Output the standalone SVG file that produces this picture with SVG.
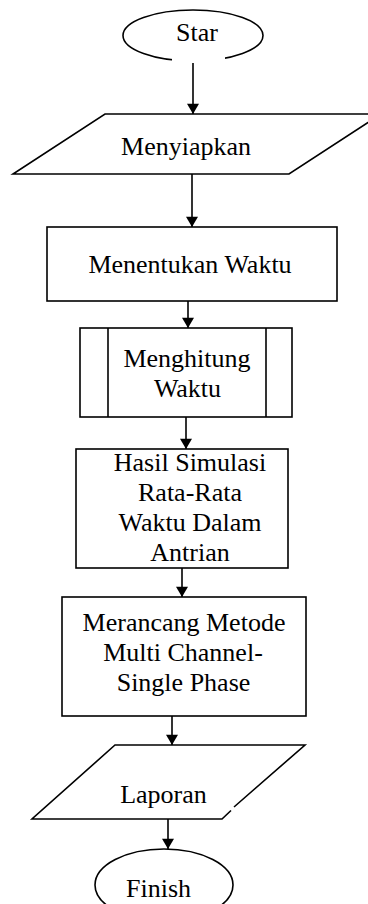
<svg xmlns="http://www.w3.org/2000/svg" width="368" height="904" viewBox="0 0 368 904">
<defs>
<style>
.s{fill:#fff;stroke:#000;stroke-width:1.6}
.t{font-family:"Liberation Serif","Times New Roman",serif;font-size:26px;fill:#000;text-anchor:middle}
.c{stroke:#000;stroke-width:1.6;fill:none}
</style>
<marker id="ah" markerWidth="14" markerHeight="12" refX="12" refY="7" orient="auto" markerUnits="userSpaceOnUse" viewBox="0 0 12 14">
<path d="M0,0 L12,7 L0,14 Z" fill="#000"/>
</marker>
</defs>
<rect width="368" height="904" fill="#fff"/>
<g id="star">
<ellipse class="s" cx="193" cy="35.5" rx="70" ry="25.5"/>
<rect x="172" y="57" width="53" height="6" fill="#fff"/>
<text class="t" x="197" y="41">Star</text>
</g>
<g id="menyiapkan">
<polygon class="s" points="105,114 381,114 289,174 13,174"/>
<text class="t" x="186" y="155">Menyiapkan</text>
</g>
<g id="menentukan">
<rect class="s" x="47" y="227" width="290" height="74"/>
<text class="t" x="190" y="273">Menentukan Waktu</text>
</g>
<g id="menghitung">
<rect class="s" x="80" y="328" width="212" height="89"/>
<line class="c" x1="108" y1="328" x2="108" y2="417"/>
<line class="c" x1="266" y1="328" x2="266" y2="417"/>
<text class="t" x="187" y="367">Menghitung</text>
<text class="t" x="187.5" y="397">Waktu</text>
</g>
<g id="hasil">
<rect class="s" x="76" y="449" width="212" height="119"/>
<text class="t" x="190" y="471">Hasil Simulasi</text>
<text class="t" x="190" y="501">Rata-Rata</text>
<text class="t" x="190" y="531">Waktu Dalam</text>
<text class="t" x="190" y="561">Antrian</text>
</g>
<g id="merancang">
<rect class="s" x="62" y="597" width="244" height="119"/>
<text class="t" x="184" y="631">Merancang Metode</text>
<text class="t" x="183" y="661">Multi Channel-</text>
<text class="t" x="183.5" y="691">Single Phase</text>
</g>
<g id="laporan">
<polygon points="115,745 305,745 222,819 32,819" fill="#fff"/>
<path class="c" d="M234,807 L305,745 L115,745 L32,819 L222,819 L231,810.5"/>
<text class="t" x="163.5" y="803">Laporan</text>
</g>
<g id="finish">
<ellipse class="s" cx="164" cy="885" rx="69" ry="36"/>
<text class="t" x="158.5" y="897">Finish</text>
</g>
<g id="connectors">
<line class="c" x1="193" y1="63" x2="193" y2="114" marker-end="url(#ah)"/>
<line class="c" x1="192" y1="174" x2="192" y2="227" marker-end="url(#ah)"/>
<line class="c" x1="188" y1="301" x2="188" y2="328" marker-end="url(#ah)"/>
<line class="c" x1="186" y1="417" x2="186" y2="449" marker-end="url(#ah)"/>
<line class="c" x1="182" y1="568" x2="182" y2="597" marker-end="url(#ah)"/>
<line class="c" x1="172" y1="716" x2="172" y2="745" marker-end="url(#ah)"/>
<line class="c" x1="168" y1="819" x2="168" y2="849" marker-end="url(#ah)"/>
</g>
</svg>
